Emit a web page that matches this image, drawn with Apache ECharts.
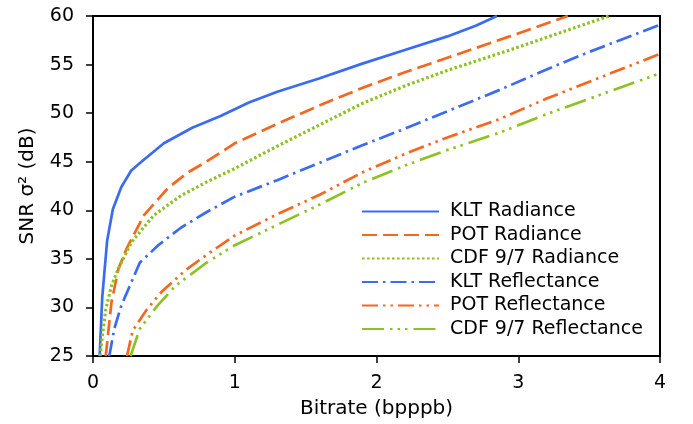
<!DOCTYPE html>
<html>
<head>
<meta charset="utf-8">
<script src="https://cdn.jsdelivr.net/npm/echarts@6/dist/echarts.min.js"></script>
<style>
html,body{margin:0;padding:0;background:#fff;}
#chart{width:693px;height:424px;}
</style>
</head>
<body>
<div id="chart"></div>
<script>
// Data (x = bitrate bpppb, y = SNR dB)
var seriesNames = ['KLT Radiance', 'POT Radiance', 'CDF 9/7 Radiance', 'KLT Reflectance', 'POT Reflectance', 'CDF 9/7 Reflectance'];
var kltRadiance = [[0.047,25],[0.065,31],[0.1,36.9],[0.14,40.1],[0.2,42.4],[0.27,44.1],[0.35,45.1],[0.5,46.9],[0.7,48.5],[0.9,49.7],[1.1,51.1],[1.3,52.2],[1.6,53.6],[1.9,55.1],[2.2,56.5],[2.5,57.9],[2.7,59.0],[2.85,60]];
var potRadiance = [[0.09,25],[0.13,30.5],[0.18,34],[0.235,36],[0.36,39.5],[0.53,42.3],[0.67,43.9],[0.8,45.0],[1.0,46.9],[1.3,48.9],[1.6,50.8],[1.9,52.6],[2.2,54.2],[2.5,55.7],[2.94,57.9],[3.35,60]];
var cdfRadiance = [[0.05,25],[0.07,27.5],[0.09,29.8],[0.13,32.2],[0.176,33.9],[0.27,36.7],[0.43,39.5],[0.62,41.5],[0.8,42.9],[1.0,44.3],[1.3,46.6],[1.6,48.8],[1.9,51.0],[2.2,52.8],[2.5,54.4],[2.94,56.5],[3.3,58.3],[3.64,60]];
var kltReflectance = [[0.115,25],[0.15,27.8],[0.2,30.2],[0.33,34.6],[0.46,36.4],[0.62,38.2],[0.8,39.8],[1.0,41.4],[1.3,43.1],[1.6,44.9],[1.9,46.7],[2.2,48.4],[2.5,50.2],[2.87,52.4],[3.2,54.5],[3.5,56.3],[4.0,59.1]];
var potReflectance = [[0.24,25],[0.28,27.6],[0.38,29.8],[0.49,31.7],[0.65,33.8],[0.8,35.4],[1.0,37.4],[1.3,39.6],[1.6,41.6],[1.9,43.9],[2.2,45.8],[2.5,47.5],[2.87,49.4],[3.2,51.5],[3.6,53.8],[4.0,56.1]];
var cdfReflectance = [[0.265,25],[0.33,27.8],[0.45,30.1],[0.58,32.2],[0.8,34.6],[1.0,36.4],[1.3,38.5],[1.6,40.6],[1.9,42.8],[2.2,44.6],[2.5,46.2],[2.87,48.0],[3.2,49.9],[3.6,52.0],[4.0,54.1]];
var xTicks = [0,1,2,3,4];
var yTicks = [25,30,35,40,45,50,55,60];

var BLUE = '#3b6cf0', ORANGE = '#f4671f', GREEN = '#8dc21f';
var FONT = 'DejaVu Sans';
var allData = [kltRadiance, potRadiance, cdfRadiance, kltReflectance, potReflectance, cdfReflectance];
var colors = [BLUE, ORANGE, GREEN, BLUE, ORANGE, GREEN];
var dashes = ['solid', [15,6], [2.6,2.4], [16,5,2.5,5], [16,5,2.5,5,2.5,5], [22,6,2.5,5,2.5,5,2.5,6]];
var widths = [2.7,2.7,3.2,2.7,2.7,2.7];

var chart = echarts.init(document.getElementById('chart'), null, {renderer:'canvas'});
var series = seriesNames.map(function(n, i){
  return {
    name: n, type: 'line', data: allData[i], showSymbol: false, symbol: 'none',
    smooth: false, clip: true,
    lineStyle: {color: colors[i], width: widths[i], type: dashes[i]},
    itemStyle: {color: colors[i]}
  };
});
chart.setOption({
  animation: false,
  backgroundColor: '#fff',
  textStyle: {fontFamily: FONT},
  grid: {left: 93, top: 16, right: 33, bottom: 67, show: true, borderColor: '#000', borderWidth: 2},
  legend: {
    orient: 'vertical', left: 356, top: 197, itemWidth: 77, itemHeight: 14, itemGap: 4.5,
    data: seriesNames,
    textStyle: {fontFamily: FONT, fontSize: 19, color: '#000', padding: [0,0,0,6]},
    itemStyle: {opacity: 0}
  },
  xAxis: {
    type: 'value', min: 0, max: 4, interval: 1,
    name: 'Bitrate (bpppb)', nameLocation: 'middle', nameGap: 43,
    nameTextStyle: {fontFamily: FONT, fontSize: 20, color: '#000'},
    axisLine: {show: true, lineStyle: {color: '#000', width: 2}},
    axisTick: {show: true, length: 7, inside: false, lineStyle: {color: '#000', width: 1.5}},
    axisLabel: {fontFamily: FONT, fontSize: 19, color: '#000', margin: 18,
      formatter: function(v){ return xTicks.indexOf(v) >= 0 ? String(v) : ''; }},
    splitLine: {show: false}
  },
  yAxis: {
    type: 'value', min: 25, max: 60, interval: 5,
    name: 'SNR σ² (dB)', nameLocation: 'middle', nameGap: 55,
    nameTextStyle: {fontFamily: FONT, fontSize: 20, color: '#000'},
    axisLine: {show: true, lineStyle: {color: '#000', width: 2}},
    axisTick: {show: true, length: 7, inside: false, lineStyle: {color: '#000', width: 1.5}},
    axisLabel: {fontFamily: FONT, fontSize: 19, color: '#000', margin: 19,
      formatter: function(v){ return yTicks.indexOf(v) >= 0 ? String(v) : ''; }},
    splitLine: {show: false}
  },
  series: series
});
</script>
</body>
</html>
